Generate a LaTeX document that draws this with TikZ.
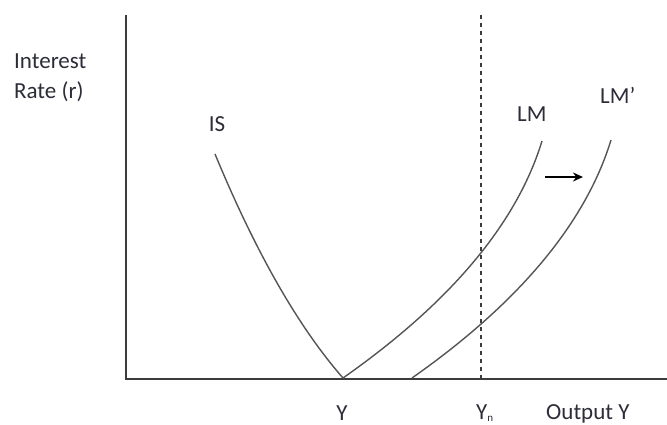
\documentclass[tikz,border=0pt]{standalone}
\usepackage{fontspec}
\setmainfont{Carlito}
\usetikzlibrary{arrows.meta}
\definecolor{txt}{RGB}{45,45,58}
\definecolor{crv}{RGB}{85,85,85}
\definecolor{axc}{RGB}{60,60,60}
\begin{document}
\begin{tikzpicture}[x=1pt,y=-1pt,
  lbl/.style={font=\fontsize{23}{26}\selectfont, text=txt, inner sep=0pt},
  curve/.style={draw=crv, line width=1.4pt},
  axis/.style={draw=axc, line width=2pt},
  guide/.style={draw=axc, line width=2pt, dash pattern=on 4pt off 4pt}]
\useasboundingbox (0,0) rectangle (667,425);
\fill[white] (0,0) rectangle (667,425);
% axes
\coordinate (ytop) at (126,15);
\coordinate (orig) at (126,379);
\coordinate (xend) at (667,379);
\draw[axis] (ytop) -- (orig) -- (xend);
% dashed Yn line
\coordinate (ntop) at (481,15);
\coordinate (nbot) at (481,379);
\draw[guide] (ntop) -- (nbot);
% curves
\coordinate (istop) at (215,154);
\coordinate (eq) at (343,378);
\coordinate (lmtop) at (542,141);
\coordinate (lmpbot) at (412,378);
\coordinate (lmptop) at (611,140);
\draw[curve] (istop) .. controls (255.7,252.3) and (298.3,326.9) .. (eq);
\draw[curve] (eq) .. controls (450.3,302.7) and (516.7,223.7) .. (lmtop);
\draw[curve] (lmpbot) .. controls (519.3,302.7) and (585.7,222.7) .. (lmptop);
% shift arrow
\coordinate (a1) at (545,177);
\coordinate (a2) at (583,177);
\draw[line width=1.6pt, -{Stealth[length=10pt,width=9pt]}] (a1) -- (a2);
% labels
\node[lbl, anchor=base west] (l1) at (14,69) {Interest};
\node[lbl, anchor=base west] (l2) at (14,99) {Rate (r)};
\node[lbl, anchor=base] (lis) at (217,132) {IS};
\node[lbl, anchor=base west] (llm) at (517,122) {LM};
\node[lbl, anchor=base west] (llmp) at (600,104) {LM’};
\node[lbl, anchor=base] (ly) at (342,420) {Y};
\node[lbl, anchor=base west] (lyn) at (476,419) {Y\raisebox{-2pt}{\fontsize{11}{12}\selectfont n}};
\node[lbl, anchor=base west] (lout) at (546,419) {Output Y};
\end{tikzpicture}
\end{document}
